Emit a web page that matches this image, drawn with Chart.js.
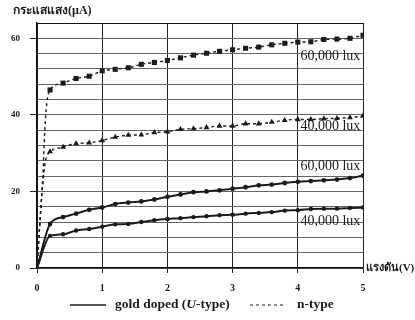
<!DOCTYPE html>
<html>
<head>
<meta charset="utf-8">
<script src="https://cdn.jsdelivr.net/npm/chart.js@4.4.1/dist/chart.umd.min.js"></script>
<style>
  html, body { margin: 0; padding: 0; background: #fff; }
  #wrap { width: 415px; height: 320px; position: relative; }
</style>
</head>
<body>
<div id="wrap"><canvas id="c" width="415" height="320"></canvas></div>
<script>
// Bias voltage (V) for the measured points
const volts = [0.2, 0.4, 0.6, 0.8, 1.0, 1.2, 1.4, 1.6, 1.8, 2.0, 2.2, 2.4, 2.6,
               2.8, 3.0, 3.2, 3.4, 3.6, 3.8, 4.0, 4.2, 4.4, 4.6, 4.8, 5.0];

// Photocurrent (µA), n-type
const nType60k = [46.5, 48.3, 49.5, 50.1, 51.5, 51.9, 52.3, 53.2, 53.7, 54.2, 54.9, 55.6, 56.1,
                  56.6, 57.0, 57.4, 57.7, 58.3, 58.7, 59.0, 59.1, 59.7, 59.8, 60.0, 60.8];
const nType40k = [30.4, 31.6, 32.5, 32.7, 33.3, 34.2, 34.7, 34.8, 35.4, 35.6, 36.2, 36.4, 36.7,
                  37.1, 37.1, 37.7, 37.7, 38.1, 38.6, 38.8, 38.8, 39.0, 39.1, 39.3, 39.7];

// Photocurrent (µA), gold doped
const gold60k = [11.5, 13.3, 14.2, 15.2, 15.8, 16.7, 17.1, 17.4, 17.9, 18.6, 19.2, 19.8, 20.0,
                 20.3, 20.7, 21.1, 21.6, 21.8, 22.2, 22.5, 22.7, 22.9, 23.1, 23.5, 24.1];
const gold40k = [8.4, 8.8, 9.8, 10.2, 10.8, 11.4, 11.5, 12.0, 12.5, 12.8, 13.0, 13.3, 13.5,
                 13.8, 13.9, 14.2, 14.4, 14.6, 15.0, 15.1, 15.4, 15.5, 15.5, 15.7, 15.8];

// Low-voltage rise of each curve (no markers)
const riseV60n = [0, 0.03, 0.06, 0.09, 0.12, 0.15];
const riseI60n = [0, 8, 16, 24, 36, 43];
const riseV40n = [0, 0.03, 0.07, 0.12, 0.16];
const riseI40n = [0, 8, 18, 27, 29.5];
const riseVgold = [0];
const riseI60g = [0];
const riseI40g = [0];

// Tick values and labels
const yTickLabels = [0, 20, 40, 60];
const xTickLabels = [0, 1, 2, 3, 4, 5];
const curveLabels = ['60,000 lux', '40,000 lux', '60,000 lux', '40,000 lux'];
const curveLabelAt = [55.4, 37.0, 26.6, 12.2];

const INK = '#1c1c1c';

function series(rv, ri, v, i) {
  const pts = [];
  rv.forEach((x, k) => pts.push({ x: x, y: ri[k], m: 0 }));
  v.forEach((x, k) => pts.push({ x: x, y: i[k], m: 1 }));
  return pts;
}

function dataset(points, style, size, dashed, width) {
  return {
    data: points,
    borderColor: INK,
    backgroundColor: INK,
    borderWidth: width,
    borderDash: dashed ? [3, 3] : [],
    pointStyle: style,
    pointRadius: ctx => (ctx.raw && ctx.raw.m ? size : 0),
    pointBorderWidth: 0,
    cubicInterpolationMode: 'monotone',
    fill: false
  };
}

const SERIF = '"Liberation Serif", "Times New Roman", serif';

const labelPlugin = {
  id: 'labels',
  afterDraw(chart) {
    const { ctx, scales } = chart;
    const xs = scales.x, ys = scales.y;
    ctx.save();
    ctx.fillStyle = INK;

    // curve labels beside the last interval
    ctx.font = '14px ' + SERIF;
    ctx.textBaseline = 'middle';
    ctx.textAlign = 'left';
    const lx = xs.getPixelForValue(4.04);
    curveLabelAt.forEach((v, k) => ctx.fillText(curveLabels[k], lx, ys.getPixelForValue(v)));

    // axis titles
    ctx.font = 'bold 12px ' + SERIF;
    ctx.fillText('กระแสแสง(µA)', 13, 11);
    ctx.font = 'bold 11px ' + SERIF;
    ctx.fillText('แรงดัน(V)', xs.right + 3, ys.bottom);

    // legend
    const ly = 305;
    ctx.strokeStyle = INK;
    ctx.lineWidth = 1.5;
    ctx.setLineDash([]);
    ctx.beginPath(); ctx.moveTo(70, ly); ctx.lineTo(106, ly); ctx.stroke();
    ctx.setLineDash([3, 3]);
    ctx.lineWidth = 1.2;
    ctx.beginPath(); ctx.moveTo(250, ly); ctx.lineTo(284, ly); ctx.stroke();
    ctx.setLineDash([]);

    let x = 115;
    const parts = [['gold doped (', 'bold 13.5px ' + SERIF],
                   ['U', 'italic bold 13.5px ' + SERIF],
                   ['-type)', 'bold 13.5px ' + SERIF]];
    parts.forEach(([t, f]) => { ctx.font = f; ctx.fillText(t, x, ly); x += ctx.measureText(t).width; });
    ctx.font = 'bold 13.5px ' + SERIF;
    ctx.fillText('n-type', 297, ly);
    ctx.restore();
  }
};

new Chart(document.getElementById('c'), {
  type: 'line',
  data: {
    datasets: [
      dataset(series(riseV60n, riseI60n, volts, nType60k), 'rect', 3.6, true, 1.4),
      dataset(series(riseV40n, riseI40n, volts, nType40k), 'triangle', 3.4, true, 1.4),
      dataset(series(riseVgold, riseI60g, volts, gold60k), 'circle', 2.4, false, 2),
      dataset(series(riseVgold, riseI40g, volts, gold40k), 'circle', 2.2, false, 2)
    ]
  },
  options: {
    responsive: false,
    animation: false,
    layout: { padding: { top: 23, right: 52, left: 0, bottom: 0 } },
    plugins: { legend: { display: false }, tooltip: { enabled: false } },
    scales: {
      x: {
        type: 'linear', min: 0, max: 5,
        afterBuildTicks: axis => { axis.ticks = xTickLabels.map(v => ({ value: v })); },
        afterFit: axis => { axis.height = 52; },
        grid: { color: '#222', lineWidth: 1, tickLength: 5, tickColor: '#222' },
        border: { color: '#111', width: 1.5 },
        ticks: {
          color: INK, padding: 9,
          font: { family: SERIF, size: 10, weight: 'bold' }
        }
      },
      y: {
        type: 'linear', min: 0, max: 64,
        afterBuildTicks: axis => {
          const t = [];
          for (let v = 0; v <= 64; v += 4) t.push({ value: v });
          axis.ticks = t;
        },
        afterFit: axis => { axis.width = 37; },
        grid: {
          color: ctx => (ctx.tick && ctx.tick.value === 64 ? '#111' : '#666'),
          lineWidth: 1, tickLength: 7,
          tickColor: ctx => (ctx.tick && yTickLabels.includes(ctx.tick.value) ? '#222' : 'rgba(0,0,0,0)')
        },
        border: { color: '#111', width: 1.5 },
        ticks: {
          color: INK, padding: 10,
          callback: v => (yTickLabels.includes(v) ? String(v) : ''),
          font: { family: SERIF, size: 9, weight: 'bold' }
        }
      }
    }
  },
  plugins: [labelPlugin]
});
</script>
</body>
</html>
